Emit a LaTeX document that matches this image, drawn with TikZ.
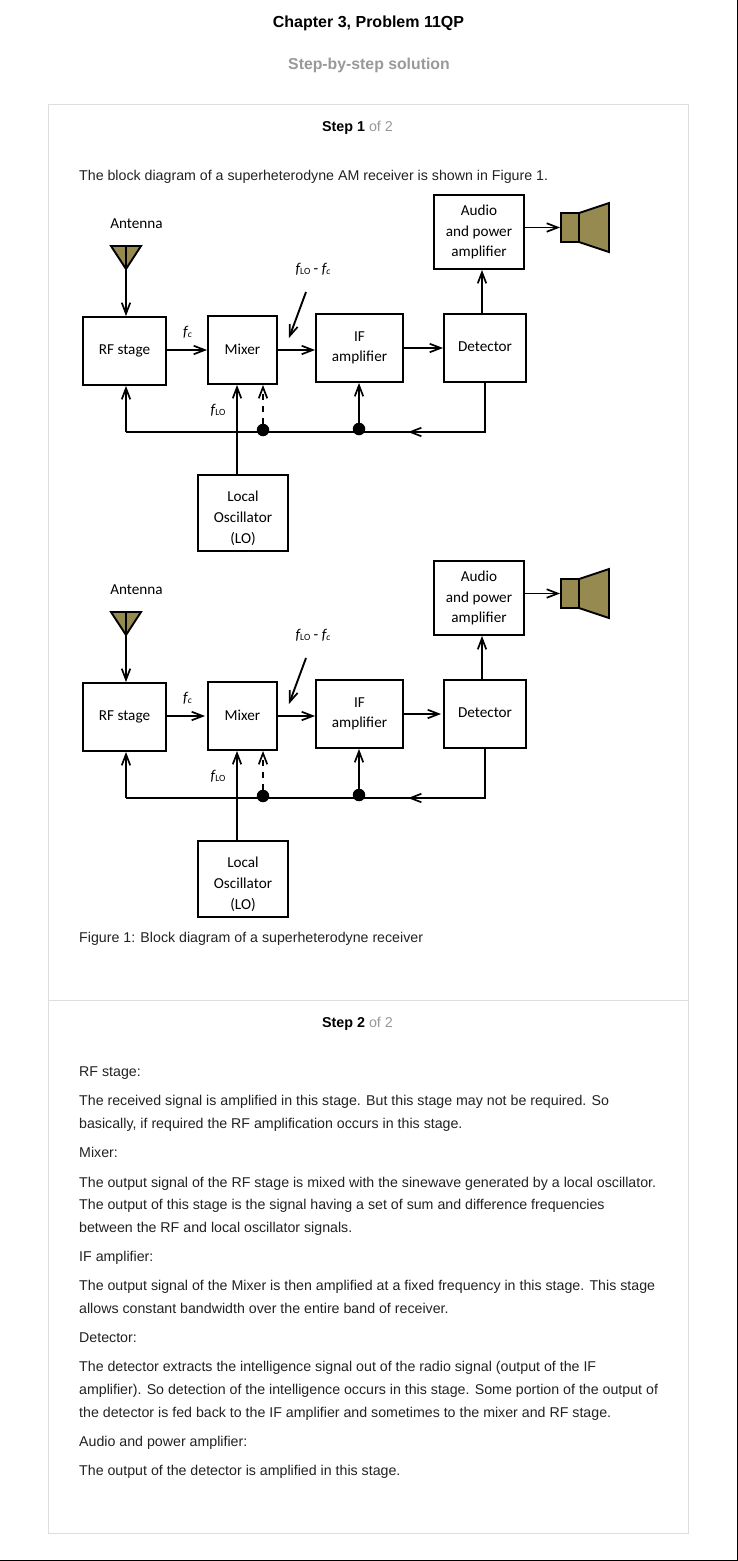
\documentclass[tikz,border=0pt]{standalone}
\usepackage{fontspec}
\setmainfont{Liberation Sans}
\newfontfamily\diagfont{Carlito}
\usetikzlibrary{arrows.meta,calc}
\definecolor{olive}{HTML}{968A50}
\definecolor{bodyc}{HTML}{222222}
\definecolor{cardc}{HTML}{DDDDDD}
\definecolor{mutedc}{HTML}{999999}
\newcommand{\fsub}[1]{{\fontsize{15}{15}\selectfont\itshape f}{\fontsize{9.5}{9.5}\selectfont\raisebox{-1pt}{#1}}}
\newcommand{\fcs}{{\fontsize{15}{15}\selectfont\itshape f}{\fontsize{9.5}{9.5}\selectfont\itshape\raisebox{-1pt}{c}}}
\newcommand{\lowered}[1]{\raisebox{-6pt}[10pt][3pt]{#1}}
\tikzset{
  x=1pt,y=-1pt,
  para/.style={anchor=base west,inner sep=0pt,font=\fontsize{14.2}{14.2}\selectfont,text=bodyc},
  head/.style={anchor=base,inner sep=0pt,font=\fontsize{14.3}{14.3}\selectfont\bfseries,text=black},
  blk/.style={draw=black,line width=1.9pt,fill=white,align=center,inner sep=0pt,font=\diagfont\fontsize{15.2}{20.6}\selectfont},
  lab/.style={inner sep=0pt,font=\diagfont\fontsize{15.2}{16}\selectfont},
  conn/.style={line width=1.9pt,draw=black},
  arr/.style={conn,-{Straight Barb[length=11pt,width=8.5pt,line width=1.7pt]}},
  dotn/.style={circle,fill=black,inner sep=0pt,minimum size=12.5pt},
  gap/.style={},
  horn/.style={draw=black,line width=1.9pt,fill=olive,line join=miter},
}
\newcommand{\receiver}{%
  % boxes
  \node[blk,minimum width=83pt,minimum height=68pt] (rf) at (124.5,351) {\raisebox{2pt}{RF stage}};
  \node[blk,minimum width=69pt,minimum height=68pt] (mix) at (242.5,350) {\raisebox{1pt}{Mixer}};
  \node[blk,minimum width=87pt,minimum height=68pt] (ifa) at (359.5,348) {IF\\amplifier};
  \node[blk,minimum width=82pt,minimum height=68pt] (det) at (485,348) {\raisebox{2pt}{Detector}};
  \node[blk,minimum width=90pt,minimum height=74pt] (aud) at (479,232) {Audio\\and power\\amplifier};
  \node[blk,minimum width=90pt,minimum height=76pt] (lo) at (243,513) {\lowered{Local}\\\lowered{Oscillator}\\\lowered{(LO)}};
  % antenna
  \draw[horn] (111,246) coordinate (antl) -- (141,246) coordinate (antr) -- (126,269) coordinate (ant) -- cycle;
  \coordinate (anttop) at (126,246);
  \draw[conn,line width=1.4pt] (anttop) -- (ant);
  % speaker
  \draw[horn] (579,213) -- (609,203) -- (609,252) -- (579,242) -- cycle;
  \node[horn,minimum width=18pt,minimum height=29pt,inner sep=0pt] (spk) at (570,227.5) {};
  % junctions
  \coordinate (fb) at (0,432);
  \node[dotn] (d1) at (263,430) {};
  \node[dotn] (d2) at (359,429) {};
  \coordinate (fbt) at (450,432);
  \coordinate (fbm) at (408,432);
  \coordinate (sl1) at (306,292);
  \coordinate (sl2) at (289,338);
  \coordinate (detup) at ($(det.north)+(-3,0)$);
  \coordinate (loup) at ($(lo.north)+(-6,0)$);
  % connectors
  \draw[arr] (ant) -- (ant |- rf.north);
  \draw[arr,gap] (mix.west -| rf.east) -- (mix.west);
  \draw[arr] (mix.east) -- (mix.east -| ifa.west);
  \draw[arr,gap] (ifa.east) -- (det.west);
  \draw[arr] (detup) -- (detup |- aud.south);
  \draw[conn] (det.south) -- (det.south |- fb) -- (ant |- fb);
  \draw[arr] (ant |- fb) -- (ant |- rf.south);
  \draw[arr] (fbt) -- (fbm);
  \draw[arr] (d2) -- (d2 |- ifa.south);
  \draw[arr,line width=1.7pt] (loup) -- (loup |- mix.south);
  \draw[arr,dash pattern=on 6pt off 6pt] (d1) -- (d1 |- mix.south);
  \draw[arr] (sl1) -- (sl2);
  \draw[arr] (spk.west -| aud.east) -- (spk.west);
  % labels
  \node[lab] (antl1) at (136.5,224) {Antenna};
  \node[lab] (l1) at (313,269) {\fsub{LO} - \fcs};
  \node[lab] (l2) at (187.5,332) {\fcs};
  \node[lab] (l3) at (218,410) {\fsub{LO}};
}
\begin{document}
\begin{tikzpicture}
\useasboundingbox (0,0) rectangle (738,1561);
\fill[white] (0,0) rectangle (738,1561);
\draw[black,line width=1pt] (737.5,0) -- (737.5,1560.5) -- (0,1560.5);
\node[head,font=\fontsize{16}{16}\selectfont\bfseries] (title) at (368.5,27) {Chapter 3, Problem 11QP};
\node[head,text=mutedc,font=\fontsize{15.8}{15.8}\selectfont\bfseries] (sub) at (369,69) {Step-by-step solution};
\draw[cardc,line width=1pt] (48.5,104.5) rectangle (688.5,1533.5);
\draw[cardc,line width=1pt] (48.5,1000.5) -- (688.5,1000.5);
\node[head] (s1) at (357.5,131) {Step 1 \textcolor{mutedc}{\mdseries of 2}};
\node[head] (s2) at (357.5,1027) {Step 2 \textcolor{mutedc}{\mdseries of 2}};
\node[para] (p0) at (79,180) {The block diagram of a superheterodyne AM receiver is shown in Figure 1.};
\begin{scope}[name prefix=a-]
\receiver
\end{scope}
\begin{scope}[yshift=-366pt,name prefix=b-,gap/.style={shorten >=2pt}]
\receiver
\end{scope}
\node[para] (cap) at (79,942) {Figure 1: Block diagram of a superheterodyne receiver};
\node[para] (t1) at (79,1076) {RF stage:};
\node[para] (t2) at (79,1105) {The received signal is amplified in this stage. But this stage may not be required. So};
\node[para] (t3) at (79,1128) {basically, if required the RF amplification occurs in this stage.};
\node[para] (t4) at (79,1157) {Mixer:};
\node[para] (t5) at (79,1187) {The output signal of the RF stage is mixed with the sinewave generated by a local oscillator.};
\node[para] (t6) at (79,1209) {The output of this stage is the signal having a set of sum and difference frequencies};
\node[para] (t7) at (79,1232) {between the RF and local oscillator signals.};
\node[para] (t8) at (79,1261) {IF amplifier:};
\node[para] (t9) at (79,1290) {The output signal of the Mixer is then amplified at a fixed frequency in this stage. This stage};
\node[para] (t10) at (79,1313) {allows constant bandwidth over the entire band of receiver.};
\node[para] (t11) at (79,1342) {Detector:};
\node[para] (t12) at (79,1371) {The detector extracts the intelligence signal out of the radio signal (output of the IF};
\node[para] (t13) at (79,1394) {amplifier). So detection of the intelligence occurs in this stage. Some portion of the output of};
\node[para] (t14) at (79,1417) {the detector is fed back to the IF amplifier and sometimes to the mixer and RF stage.};
\node[para] (t15) at (79,1446) {Audio and power amplifier:};
\node[para] (t16) at (79,1475) {The output of the detector is amplified in this stage.};
\end{tikzpicture}
\end{document}
